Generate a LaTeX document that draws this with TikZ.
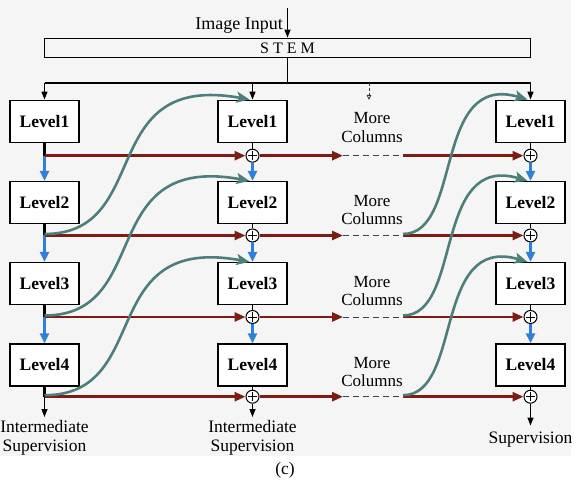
\documentclass[tikz,border=0pt]{standalone}
\usepackage{fontspec}
\setmainfont{Liberation Serif}
\usetikzlibrary{arrows.meta}
\definecolor{bgc}{HTML}{F5F5F5}
\definecolor{rdc}{HTML}{7B1D12}
\definecolor{tlc}{HTML}{4C7F7C}
\definecolor{blc}{HTML}{2E80D8}
\begin{document}
\begin{tikzpicture}[x=1pt,y=-1pt,
  lvl/.style={draw, line width=1.3pt, fill=white, minimum width=69pt, minimum height=42pt, inner sep=0pt, font=\fontsize{17.5}{20}\selectfont\bfseries},
  sumnode/.style={circle, draw, line width=1pt, fill=white, minimum size=13pt, inner sep=0pt,
    path picture={\draw[line width=1pt] ([yshift=4.6pt]path picture bounding box.center) -- ([yshift=-4.6pt]path picture bounding box.center)
      ([xshift=-4.6pt]path picture bounding box.center) -- ([xshift=4.6pt]path picture bounding box.center);}},
  txt/.style={font=\fontsize{17.5}{18.7}\selectfont, align=center, inner sep=0pt},
  redline/.style={draw=rdc, line width=2.6pt},
  redarr/.style={redline, -{Triangle[length=11pt,width=9pt]}},
  bluarr/.style={draw=blc, line width=2.4pt, -{Triangle[length=10pt,width=9pt]}},
  tlarr/.style={draw=tlc, line width=2.6pt, -{Stealth[length=13pt,width=11pt,inset=3pt]}},
  blkarr/.style={draw=black, line width=1.3pt, -{Triangle[length=8pt,width=6pt]}},
  thickblk/.style={draw=black, line width=2.8pt},
  thinblk/.style={draw=black, line width=1.8pt},
  dashgray/.style={draw=black!75, line width=1pt, dash pattern=on 6pt off 4pt},
  smalldash/.style={draw=black!80, line width=0.8pt, dash pattern=on 3pt off 2pt, -{Triangle[length=5pt,width=4.5pt,open]}}
]
\useasboundingbox (0,0) rectangle (578,486);
\fill[bgc] (0,0) rectangle (571,456);

% ---- top part
\node[txt, font=\fontsize{18}{20}\selectfont, anchor=east] (img) at (283,25.8) {Image Input};
\coordinate (inp) at (287.5,8);
\node[draw, line width=1.3pt, minimum width=486.4pt, minimum height=19pt, inner sep=0pt, font=\fontsize{16}{18}\selectfont] (stem) at (287.5,47.8) {S T E M};
\coordinate (bus) at (287.5,83);
\coordinate (busL) at (44.5,83);
\coordinate (busR) at (530.5,83);
\coordinate (busM) at (252.5,83);
\coordinate (mcTop) at (369,83);
\coordinate (mcBot) at (369,100);

% ---- level boxes
\node[lvl] (L1) at (44.5,121.2) {Level1};
\node[lvl] (L2) at (44.5,202.5) {Level2};
\node[lvl] (L3) at (44.5,283.5) {Level3};
\node[lvl] (L4) at (44.5,364.9) {Level4};
\node[lvl] (M1) at (252.5,121.2) {Level1};
\node[lvl] (M2) at (252.5,202.5) {Level2};
\node[lvl] (M3) at (252.5,283.5) {Level3};
\node[lvl] (M4) at (252.5,364.9) {Level4};
\node[lvl] (R1) at (530.5,121.2) {Level1};
\node[lvl] (R2) at (530.5,202.5) {Level2};
\node[lvl] (R3) at (530.5,283.5) {Level3};
\node[lvl] (R4) at (530.5,364.9) {Level4};

% ---- junctions and sums
\coordinate (L1j) at (44.5,155.7);
\coordinate (L2j) at (44.5,235.5);
\coordinate (L3j) at (44.5,317);
\coordinate (L4j) at (44.5,396.7);
\node[sumnode] (M1s) at (252.5,155.7) {};
\node[sumnode] (M2s) at (252.5,235.5) {};
\node[sumnode] (M3s) at (252.5,317) {};
\node[sumnode] (M4s) at (252.5,396.7) {};
\node[sumnode] (R1s) at (530.5,155.7) {};
\node[sumnode] (R2s) at (530.5,235.5) {};
\node[sumnode] (R3s) at (530.5,317) {};
\node[sumnode] (R4s) at (530.5,396.7) {};
\coordinate (D1a) at (343,155.7); \coordinate (D1b) at (403,155.7);
\coordinate (D2a) at (343,235.5); \coordinate (D2b) at (403,235.5);
\coordinate (D3a) at (343,317);   \coordinate (D3b) at (403,317);
\coordinate (D4a) at (343,396.7); \coordinate (D4b) at (403,396.7);

% ---- more columns labels
\node[txt, font=\fontsize{17}{18.7}\selectfont] (mc1) at (372,127.5) {More\\Columns};
\node[txt, font=\fontsize{17}{18.7}\selectfont] (mc2) at (372,210) {More\\Columns};
\node[txt, font=\fontsize{17}{18.7}\selectfont] (mc3) at (372,291) {More\\Columns};
\node[txt, font=\fontsize{17}{18.7}\selectfont] (mc4) at (372,372) {More\\Columns};

% ---- bottom labels
\node[txt] (LSup) at (44.5,437.5) {Intermediate\\Supervision};
\node[txt] (MSup) at (252.5,437.5) {Intermediate\\Supervision};
\node[txt] (RSup) at (530.5,439.4) {Supervision};
\node[txt] (cap) at (285,470.5) {(c)};

% ---- top connectors
\draw[blkarr] (inp) -- (stem.north -| inp);
\draw[line width=1.3pt] (stem.south -| bus) -- (bus);
\draw[line width=1.3pt] (busL) -- (busR);
\draw[blkarr] (busL) -- (L1.north);
\draw[blkarr] (busM) -- (M1.north);
\draw[blkarr] (busR) -- (R1.north);
\draw[smalldash] (mcTop) -- (mcBot);

% ---- left column
\draw[thickblk] (L1.south) -- (L1j);
\draw[thickblk] (L2.south) -- (L2j);
\draw[thickblk] (L3.south) -- (L3j);
\draw[thickblk] (L4.south) -- (L4j);
\draw[bluarr] (L1j) -- (L2.north);
\draw[bluarr] (L2j) -- (L3.north);
\draw[bluarr] (L3j) -- (L4.north);
\draw[blkarr, shorten >=3pt] (L4j) -- (LSup.north);

% ---- middle column
\draw[thinblk] (M1.south) -- (M1s.north);
\draw[thinblk] (M2.south) -- (M2s.north);
\draw[thinblk] (M3.south) -- (M3s.north);
\draw[thinblk] (M4.south) -- (M4s.north);
\draw[bluarr] (M1s.south) -- (M2.north);
\draw[bluarr] (M2s.south) -- (M3.north);
\draw[bluarr] (M3s.south) -- (M4.north);
\draw[blkarr, shorten >=3pt] (M4s.south) -- (MSup.north);

% ---- right column
\draw[thinblk] (R1.south) -- (R1s.north);
\draw[thinblk] (R2.south) -- (R2s.north);
\draw[thinblk] (R3.south) -- (R3s.north);
\draw[thinblk] (R4.south) -- (R4s.north);
\draw[bluarr] (R1s.south) -- (R2.north);
\draw[bluarr] (R2s.south) -- (R3.north);
\draw[bluarr] (R3s.south) -- (R4.north);
\draw[blkarr, shorten >=6pt] (R4s.south) -- (RSup.north);

% ---- red horizontal paths
\foreach \i/\lj in {1/L1j,2/L2j,3/L3j,4/L4j}{
  \draw[redarr] (\lj) -- (M\i s.west);
  \draw[redarr] (M\i s.east) -- (D\i a);
  \draw[dashgray] (D\i a) -- (D\i b);
  \draw[redarr] (D\i b) -- (R\i s.west);
}

% ---- teal skip curves
\draw[tlarr] ([yshift=1.5pt]L2j) .. controls +(110,0) and +(-155,-28) .. ([xshift=-3pt]M1.north);
\draw[tlarr] ([yshift=1.5pt]L3j) .. controls +(110,0) and +(-155,-28) .. ([xshift=-3pt]M2.north);
\draw[tlarr] ([yshift=1.5pt]L4j) .. controls +(110,0) and +(-155,-28) .. ([xshift=-3pt]M3.north);
\draw[tlarr] ([yshift=1.5pt]D2b) .. controls +(60,0) and +(-95,-28) .. ([xshift=-3pt]R1.north);
\draw[tlarr] ([yshift=1.5pt]D3b) .. controls +(60,0) and +(-95,-28) .. ([xshift=-3pt]R2.north);
\draw[tlarr] ([yshift=1.5pt]D4b) .. controls +(60,0) and +(-95,-28) .. ([xshift=-3pt]R3.north);
\end{tikzpicture}
\end{document}
